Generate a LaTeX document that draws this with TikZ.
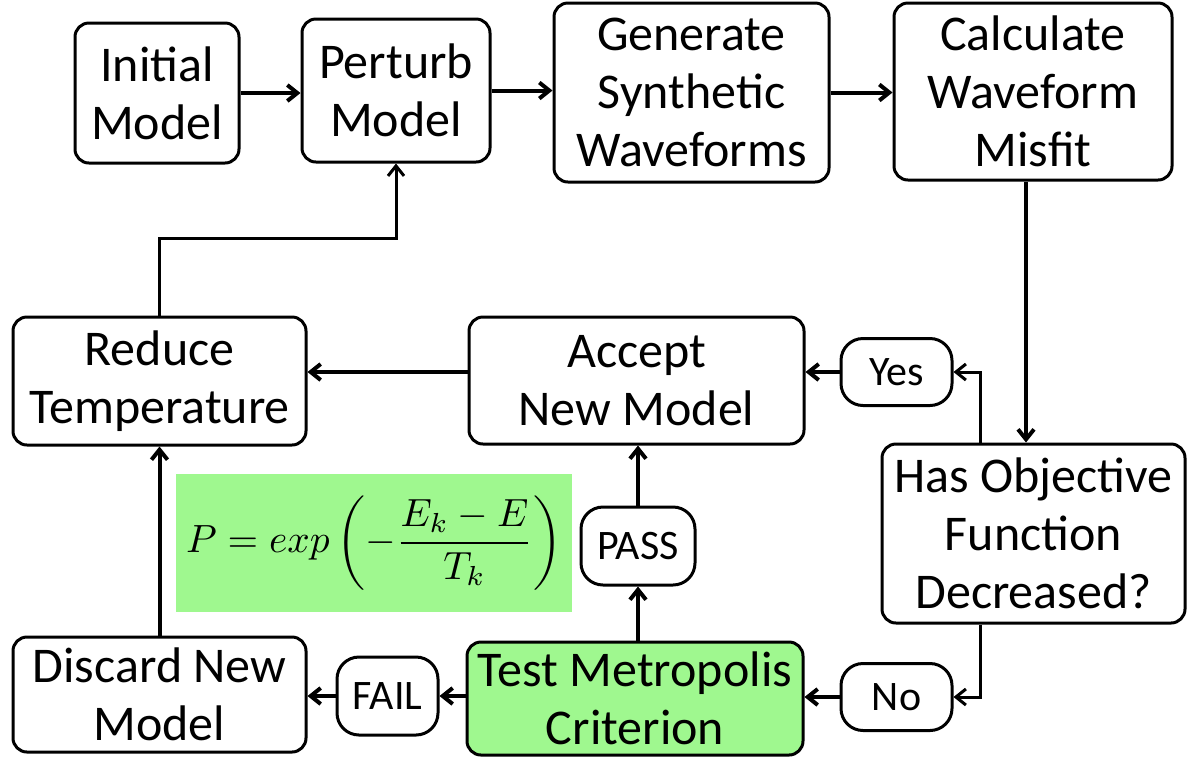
\documentclass[tikz,border=0pt]{standalone}
\usepackage{fontspec}
\setmainfont{Carlito}
\usepackage{graphicx}
\usetikzlibrary{arrows.meta}
\definecolor{mgreen}{RGB}{159,248,143}
\begin{document}
\begin{tikzpicture}[x=0.5pt,y=-0.5pt,
  box/.style={draw, line width=1.5pt, rounded corners=7pt, align=center, font=\fontsize{25}{29}\selectfont, inner sep=0pt},
  tag/.style={draw, line width=1.5pt, rounded corners=11pt, align=center, font=\fontsize{21}{24}\selectfont, inner sep=0pt},
  arr/.style={line width=2pt, -{Straight Barb[length=5pt,width=8pt]}},
  arrt/.style={line width=1.5pt, -{Straight Barb[length=5pt,width=8pt]}}]
\useasboundingbox (0,0) rectangle (1188,757);
\node[box, minimum width=82pt, minimum height=70pt] (init) at (157,93) {Initial\\Model};
\node[box, minimum width=94pt, minimum height=71.5pt] (pert) at (396,90.5) {Perturb\\Model};
\node[box, minimum width=137.5pt, minimum height=89.5pt] (gen) at (691.5,92.5) {Generate\\Synthetic\\Waveforms};
\node[box, minimum width=139pt, minimum height=88.5pt] (calc) at (1033,91.5) {Calculate\\Waveform\\Misfit};
\node[box, minimum width=146.5pt, minimum height=64pt] (reduce) at (159.5,381) {Reduce\\Temperature};
\node[box, minimum width=167.5pt, minimum height=63.5pt] (accept) at (636.5,380.5) {Accept\\New Model};
\node[tag, minimum width=55.5pt, minimum height=33.5pt] (yes) at (896.5,372) {Yes};
\node[box, minimum width=151.5pt, minimum height=89.5pt] (hasobj) at (1033.5,533.5) {Has Objective\\Function\\Decreased?};
\node[tag, minimum width=57pt, minimum height=39pt] (pass) at (638,546) {PASS};
\node[fill=mgreen, minimum width=198pt, minimum height=69pt, inner sep=0pt] (formula) at (374,543) {\resizebox{188pt}{!}{$\displaystyle P = exp\left(-\frac{E_k-E}{T_k}\right)$}};
\node[box, minimum width=146.5pt, minimum height=57.5pt] (discard) at (159.5,694.5) {Discard New\\Model};
\node[tag, minimum width=50.5pt, minimum height=39pt] (fail) at (387.5,696) {FAIL};
\node[box, fill=mgreen, minimum width=168pt, minimum height=56.5pt] (test) at (635,698.5) {Test Metropolis\\Criterion};
\node[tag, minimum width=55.5pt, minimum height=33.5pt] (no) at (896.5,697) {No};
\coordinate (yesx) at (980,0);
\coordinate (cx) at (1026,0);
\coordinate (rp) at (0,238);
\draw[arr] (init.east) -- (init.east -| pert.west);
\draw[arr] (pert.east) -- (pert.east -| gen.west);
\draw[arr] (gen.east) -- (gen.east -| calc.west);
\draw[arr] (calc.south -| cx) -- (hasobj.north -| cx);
\draw[arrt] (hasobj.north -| yesx) |- (yes.east);
\draw[arr] (yes.west) -- (yes.west -| accept.east);
\draw[arrt] (hasobj.south -| yesx) |- (no.east);
\draw[arr] (no.west) -- (no.west -| test.east);
\draw[arr] (test.west |- fail.east) -- (fail.east);
\draw[arr] (fail.west) -- (fail.west -| discard.east);
\draw[arr] (test.north -| pass.south) -- (pass.south);
\draw[arr] (pass.north) -- (pass.north |- accept.south);
\draw[arr] (discard.north) -- (reduce.south);
\draw[arr] (accept.west |- yes.west) -- (reduce.east |- yes.west);
\draw[arrt] (reduce.north) -- (reduce.north |- rp) -| (pert.south);
\end{tikzpicture}
\end{document}
